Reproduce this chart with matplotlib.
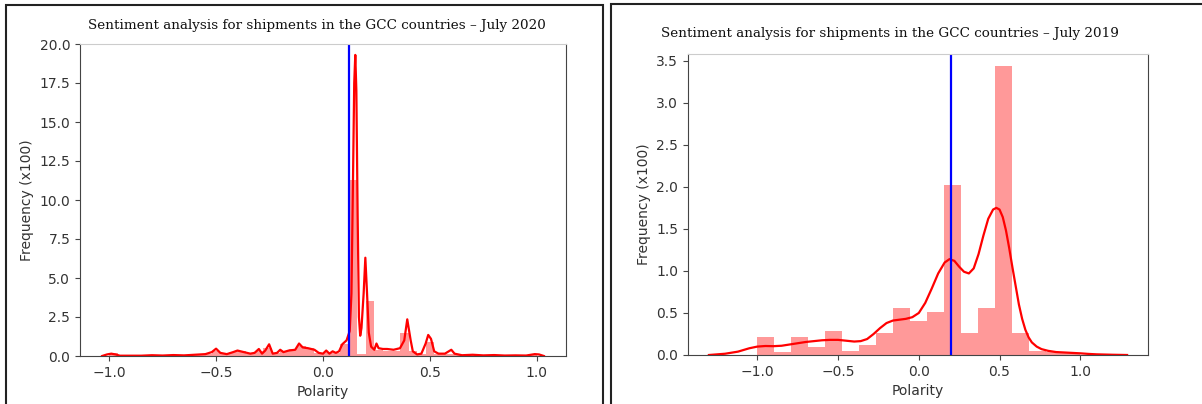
import numpy as np
import matplotlib.pyplot as plt
from matplotlib.patches import Rectangle

# --- datos ---
titulo_2020 = 'Sentiment analysis for shipments in the GCC countries – July 2020'
titulo_2019 = 'Sentiment analysis for shipments in the GCC countries – July 2019'

# histograma julio 2020 (50 bins de -1 a 1)
bins_2020 = np.linspace(-1, 1, 51)
alturas_2020 = [0.2, 0.02, 0.02, 0.02, 0.02, 0.03, 0.03, 0.04, 0.03, 0.05,
                0.08, 0.15, 0.35, 0.1, 0.25, 0.3, 0.12, 0.35, 0.5, 0.2,
                0.35, 0.45, 0.65, 0.5, 0.2, 0.25, 0.2, 0.8, 11.3, 0.15,
                3.55, 0.4, 0.35, 0.3, 1.45, 0.3, 0.1, 0.9, 0.15, 0.1,
                0.15, 0.03, 0.04, 0.03, 0.03, 0.02, 0.02, 0.02, 0.02, 0.1]

# curva kde julio 2020
kde_x_2020 = [-1.033, -1.01, -0.99, -0.97, -0.95, -0.85, -0.80, -0.75, -0.70, -0.65,
              -0.60, -0.55, -0.52, -0.50, -0.48, -0.45, -0.42, -0.40, -0.37, -0.34,
              -0.32, -0.30, -0.285, -0.27, -0.252, -0.235, -0.215, -0.20, -0.185, -0.16,
              -0.13, -0.112, -0.095, -0.07, -0.04, -0.02, 0.0, 0.015, 0.03, 0.045,
              0.06, 0.075, 0.09, 0.11, 0.125, 0.133, 0.14, 0.146, 0.151, 0.156,
              0.162, 0.168, 0.174, 0.18, 0.19, 0.198, 0.206, 0.214, 0.225, 0.24,
              0.25, 0.26, 0.28, 0.30, 0.33, 0.36, 0.38, 0.394, 0.41, 0.42,
              0.44, 0.46, 0.48, 0.492, 0.505, 0.52, 0.54, 0.57, 0.60, 0.615,
              0.65, 0.70, 0.75, 0.80, 0.85, 0.90, 0.95, 0.99, 1.01, 1.033]
kde_y_2020 = [0.0, 0.1, 0.15, 0.1, 0.02, 0.02, 0.05, 0.03, 0.06, 0.04,
              0.08, 0.12, 0.25, 0.47, 0.2, 0.12, 0.25, 0.35, 0.25, 0.15,
              0.2, 0.45, 0.15, 0.35, 0.75, 0.15, 0.2, 0.4, 0.25, 0.35,
              0.4, 0.8, 0.55, 0.5, 0.4, 0.2, 0.15, 0.35, 0.15, 0.3,
              0.2, 0.3, 0.75, 1.0, 1.6, 4.0, 11.0, 17.5, 19.3, 17.0,
              9.0, 2.5, 1.3, 1.8, 4.0, 6.3, 4.0, 1.5, 0.6, 0.4,
              0.8, 0.5, 0.45, 0.45, 0.4, 0.5, 1.0, 2.35, 1.0, 0.3,
              0.1, 0.15, 0.8, 1.35, 1.1, 0.3, 0.15, 0.15, 0.4, 0.15,
              0.05, 0.08, 0.04, 0.06, 0.03, 0.04, 0.03, 0.12, 0.1, 0.0]
media_2020 = 0.123

# histograma julio 2019 (19 bins de -1 a 1)
bins_2019 = np.linspace(-1, 1, 20)
alturas_2019 = [0.21, 0.03, 0.21, 0.095, 0.29, 0.05, 0.115, 0.26, 0.56, 0.40,
                0.51, 2.02, 0.26, 0.56, 3.44, 0.26, 0.05, 0.04, 0.02]

# curva kde julio 2019
kde_x_2019 = [-1.30, -1.20, -1.12, -1.05, -1.00, -0.95, -0.90, -0.85, -0.80, -0.75,
              -0.70, -0.65, -0.60, -0.55, -0.50, -0.45, -0.40, -0.36, -0.32, -0.28,
              -0.24, -0.20, -0.16, -0.12, -0.08, -0.04, 0.0, 0.04, 0.08, 0.12,
              0.16, 0.19, 0.22, 0.25, 0.28, 0.31, 0.34, 0.37, 0.40, 0.43,
              0.46, 0.48, 0.50, 0.52, 0.54, 0.56, 0.58, 0.60, 0.62, 0.64,
              0.66, 0.68, 0.70, 0.73, 0.76, 0.80, 0.85, 0.90, 0.95, 1.00,
              1.05, 1.10, 1.20, 1.29]
kde_y_2019 = [0.0, 0.015, 0.04, 0.08, 0.10, 0.107, 0.105, 0.11, 0.125, 0.14,
              0.155, 0.165, 0.175, 0.18, 0.18, 0.17, 0.16, 0.165, 0.19, 0.25,
              0.32, 0.38, 0.41, 0.42, 0.43, 0.45, 0.5, 0.62, 0.79, 0.97,
              1.10, 1.14, 1.12, 1.05, 0.99, 0.97, 1.03, 1.2, 1.42, 1.62,
              1.73, 1.75, 1.73, 1.64, 1.48, 1.27, 1.04, 0.82, 0.6, 0.43,
              0.3, 0.21, 0.15, 0.1, 0.07, 0.05, 0.035, 0.03, 0.025, 0.02,
              0.013, 0.008, 0.003, 0.0]
media_2019 = 0.2

W, H = 1202, 404
fig = plt.figure(figsize=(W / 100, H / 100), dpi=100)


def panel(rect, bins, alturas, kx, ky, media, ylim, yticks):
    ax = fig.add_axes([rect[0] / W, 1 - rect[3] / H, (rect[2] - rect[0]) / W, (rect[3] - rect[1]) / H])
    ax.bar(bins[:-1], alturas, width=np.diff(bins), align='edge', color='red', alpha=0.4, linewidth=0)
    ax.plot(kx, ky, color='red', lw=1.6, solid_joinstyle='round')
    ax.axvline(media, color='blue', lw=1.6)
    ax.margins(x=0.05)
    ax.set_ylim(*ylim)
    ax.set_yticks(yticks)
    ax.set_xticks([-1.0, -0.5, 0.0, 0.5, 1.0])
    ax.set_xticklabels(['−1.0', '−0.5', '0.0', '0.5', '1.0'])
    ax.set_yticklabels(['%.1f' % t for t in yticks])
    ax.tick_params(colors='#444444', labelsize=10, labelcolor='#333333')
    for s in ['left', 'bottom', 'right']:
        ax.spines[s].set_color('#444444')
    ax.spines['top'].set_color('#cccccc')
    ax.set_xlabel('Polarity', color='#333333', fontsize=10)
    ax.set_ylabel('Frequency (x100)', color='#333333', fontsize=10)
    return ax


ax1 = panel((80, 44, 566, 356), bins_2020, alturas_2020, kde_x_2020, kde_y_2020,
            media_2020, (0, 20), np.arange(0, 20.1, 2.5))
ax2 = panel((688, 54, 1148, 355), bins_2019, alturas_2019, kde_x_2019, kde_y_2019,
            media_2019, (0, 3.58), np.arange(0, 3.6, 0.5))

# titulos (serif, como en el documento)
fig.text(317 / W, 1 - 26 / H, titulo_2020, ha='center', va='center',
         family='DejaVu Serif', fontsize=9.7, color='#111111')
fig.text(890 / W, 1 - 33 / H, titulo_2019, ha='center', va='center',
         family='DejaVu Serif', fontsize=9.7, color='#111111')

# marcos negros de cada panel
fig.patches.append(Rectangle((6 / W, -0.1), 597 / W, 1.1 - 5 / H, transform=fig.transFigure,
                             fill=False, edgecolor='#222222', lw=1.5))
fig.patches.append(Rectangle((611 / W, -0.1), 700 / W, 1.1 - 4 / H, transform=fig.transFigure,
                             fill=False, edgecolor='#222222', lw=1.5))

plt.savefig('out.png', dpi=100)
